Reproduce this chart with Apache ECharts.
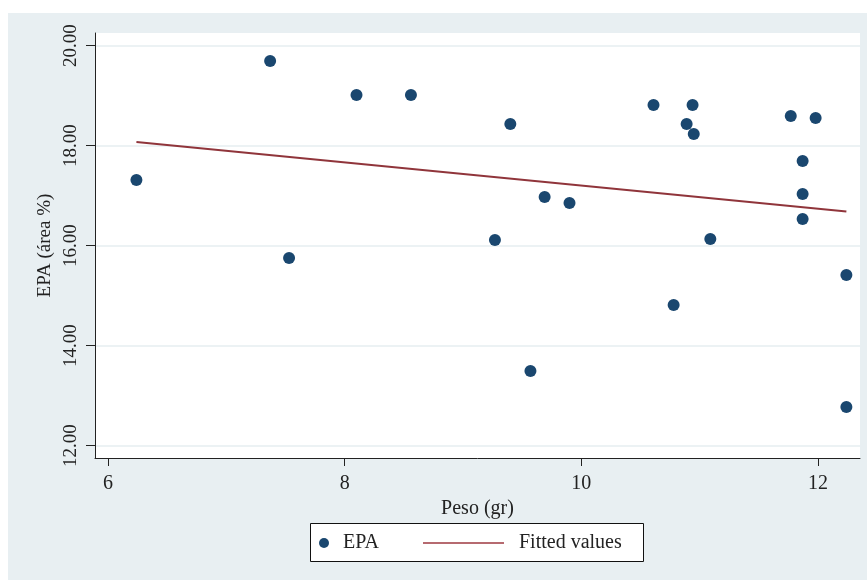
<!DOCTYPE html>
<html>
<head>
<meta charset="utf-8">
<script src="https://cdn.jsdelivr.net/npm/echarts@6/dist/echarts.min.js"></script>
<style>html,body{margin:0;padding:0;background:#fff}#c{width:867px;height:580px}</style>
</head>
<body>
<div id="c"></div>
<script>
const xTicks = [6, 8, 10, 12];
const yTicks = [12, 14, 16, 18, 20];
const peso = [6.24, 7.37, 7.53, 8.10, 8.56, 9.27, 9.40, 9.57, 9.69, 9.90, 10.61, 10.78, 10.89, 10.94, 10.95, 11.09, 11.77, 11.98, 11.87, 11.87, 11.87, 12.24, 12.24];
const epa  = [17.31, 19.69, 15.75, 19.01, 19.01, 16.11, 18.43, 13.49, 16.97, 16.85, 18.81, 14.81, 18.43, 18.81, 18.23, 16.13, 18.59, 18.55, 17.69, 17.03, 16.53, 15.41, 12.77];
const fitX = [6.24, 12.24];
const fitY = [18.07, 16.68];

const FONT = 'Liberation Serif';
const TXT = '#222';
const BG = '#e8eff2';

const chart = echarts.init(document.getElementById('c'), null, {renderer: 'canvas'});
chart.setOption({
  animation: false,
  backgroundColor: BG,
  textStyle: {fontFamily: FONT},
  graphic: [
    {type: 'rect', z: 1, shape: {x: 0, y: 0, width: 867, height: 13}, style: {fill: '#fff'}, silent: true},
    {type: 'rect', z: 1, shape: {x: 0, y: 0, width: 8, height: 580}, style: {fill: '#fff'}, silent: true},
    {type: 'rect', z: 1, shape: {x: 310.5, y: 523.5, width: 333, height: 38}, style: {fill: '#fff', stroke: '#111', lineWidth: 1}, silent: true}
  ],
  grid: {left: 95, top: 33, right: 7, bottom: 122, show: true, backgroundColor: '#fff', borderWidth: 0},
  xAxis: {
    type: 'value', min: 5.89, max: 12.355,
    name: 'Peso (gr)', nameLocation: 'middle', nameGap: 35,
    nameTextStyle: {fontFamily: FONT, fontSize: 20, color: TXT},
    axisLine: {show: true, onZero: false, lineStyle: {color: '#222', width: 1}},
    axisTick: {show: true, length: 8, customValues: xTicks, lineStyle: {color: '#222'}},
    axisLabel: {customValues: xTicks, margin: 16, fontFamily: FONT, fontSize: 20, color: TXT},
    splitLine: {show: false}
  },
  yAxis: {
    type: 'value', min: 11.75, max: 20.25,
    name: 'EPA (área %)', nameLocation: 'middle', nameRotate: 90, nameGap: 39,
    nameTextStyle: {fontFamily: FONT, fontSize: 19, color: TXT},
    axisLine: {show: true, onZero: false, lineStyle: {color: '#222', width: 1}},
    axisTick: {show: true, length: 9, customValues: yTicks, lineStyle: {color: '#222'}},
    axisLabel: {customValues: yTicks, rotate: 90, margin: 14, fontFamily: FONT, fontSize: 19, color: TXT,
      formatter: v => Number(v).toFixed(2)},
    splitLine: {show: true, lineStyle: {color: '#e6eef1', width: 1.5}}
  },
  legend: [
    {data: ['EPA'], left: 319, top: 533, padding: 0, itemWidth: 10, itemHeight: 10, icon: 'circle',
      textStyle: {fontFamily: FONT, fontSize: 20, color: TXT, padding: [0, 0, 0, 9]}},
    {data: ['Fitted values'], left: 423, top: 533, padding: 0, itemWidth: 81, itemHeight: 2, icon: 'rect',
      itemStyle: {color: '#b66a70'},
      textStyle: {fontFamily: FONT, fontSize: 20, color: TXT, padding: [0, 0, 0, 10]}}
  ],
  series: [
    {name: 'EPA', type: 'scatter', symbol: 'circle', symbolSize: 12,
      itemStyle: {color: '#1a476f', opacity: 1},
      data: peso.map((x, i) => [x, epa[i]])},
    {name: 'Fitted values', type: 'line', showSymbol: false, symbol: 'none',
      lineStyle: {color: '#90353b', width: 2}, itemStyle: {color: '#90353b'},
      data: fitX.map((x, i) => [x, fitY[i]])}
  ]
});
</script>
</body>
</html>
